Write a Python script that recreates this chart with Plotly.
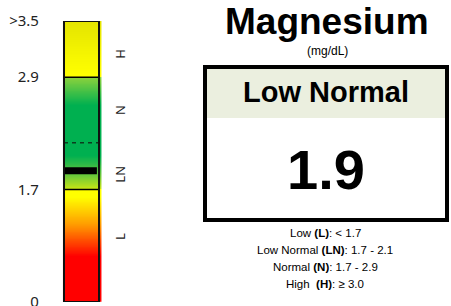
import numpy as np
import plotly.graph_objects as go

# ---- data ----
analyte = "Magnesium"
unit = "(mg/dL)"
result_value = 1.9
result_label = "Low Normal"
scale_breaks = [0, 1.7, 2.9, 3.5]          # values at tick positions
scale_ticktext = ["0", "1.7", "2.9", ">3.5"]
boundary_values = [1.7, 2.9]               # solid lines
dashed_value = 2.2                         # dashed reference line
zone_labels = ["L", "LN", "N", "H"]
zone_label_values = [1.0, 1.87, 2.55, 3.15]
legend_lines = [
    "Low <b>(L)</b>: &lt; 1.7",
    "Low Normal <b>(LN)</b>: 1.7 - 2.1",
    "Normal <b>(N)</b>: 1.7 - 2.9",
    "High&nbsp; <b>(H)</b>: ≥ 3.0",
]

# ---- layout helpers ----
W, H = 451, 306
GAUGE_KNOTS = [0, 1, 2, 2.5]  # display positions of scale_breaks


def g(v):
    return float(np.interp(v, scale_breaks, GAUGE_KNOTS))


def px(x):
    return x / W


def py(y):
    return 1 - y / H


fig = go.Figure()

# gradient fill of the gauge
ny = 600
ys = np.linspace(0, 2.5, ny)
zs = np.tile(ys.reshape(-1, 1), (1, 2))
cs = [
    [0.0, "#FF0000"],
    [0.40 / 2.5, "#FF0000"],
    [0.68 / 2.5, "#FF9900"],
    [0.93 / 2.5, "#FFFF00"],
    [1.0 / 2.5, "#FFFF00"],
    [1.002 / 2.5, "#C8E614"],
    [1.12 / 2.5, "#6CC83A"],
    [1.30 / 2.5, "#00B050"],
    [1.75 / 2.5, "#00B050"],
    [1.998 / 2.5, "#8CD23C"],
    [2.002 / 2.5, "#FFFF00"],
    [2.15 / 2.5, "#F8F800"],
    [1.0, "#E4E400"],
]
fig.add_trace(go.Heatmap(
    x=[0, 1.06], y=ys, z=zs, colorscale=cs, zmin=0, zmax=2.5,
    showscale=False, hoverinfo="skip", xgap=0, ygap=0,
))

# result marker
fig.add_trace(go.Scatter(
    x=[0, 0.94], y=[g(result_value)] * 2, mode="lines",
    line=dict(color="black", width=7), hoverinfo="skip", showlegend=False,
))

shapes = []
for b in boundary_values:
    shapes.append(dict(type="line", xref="x", yref="y", x0=0, x1=1, y0=g(b), y1=g(b),
                       line=dict(color="black", width=1.5)))
shapes.append(dict(type="line", xref="x", yref="y", x0=0, x1=1, y0=g(dashed_value), y1=g(dashed_value),
                   line=dict(color="#0B3D1E", width=1.3, dash="4px,4px")))
shapes.append(dict(type="rect", xref="x", yref="y", x0=0, x1=1, y0=0, y1=2.5,
                   line=dict(color="#111", width=2)))

# right panel box
shapes.append(dict(type="rect", xref="paper", yref="paper",
                   x0=px(205), x1=px(447), y0=py(67), y1=py(118),
                   fillcolor="#EBEFDF", line=dict(width=0), layer="below"))
shapes.append(dict(type="rect", xref="paper", yref="paper",
                   x0=px(205), x1=px(447), y0=py(67), y1=py(220),
                   line=dict(color="black", width=4)))

C = dict(showarrow=False, xanchor="center", yanchor="middle")
ann = []
for lab, v in zip(zone_labels, zone_label_values):
    ann.append(dict(x=px(120), y=g(v), xref="paper", yref="y", text=lab, textangle=-90,
                    font=dict(family="Noto Sans, Liberation Sans", size=13, color="#222"), **C))

ann.append(dict(x=px(327), y=py(22), xref="paper", yref="paper", text=f"<b>{analyte}</b>",
                font=dict(family="Liberation Sans, Arial", size=37, color="black"), **C))
ann.append(dict(x=px(327), y=py(51), xref="paper", yref="paper", text=unit,
                font=dict(family="Liberation Sans, Arial", size=12, color="black"), **C))
ann.append(dict(x=px(326), y=py(92), xref="paper", yref="paper", text=f"<b>{result_label}</b>",
                font=dict(family="Liberation Sans Narrow, Liberation Sans, Arial", size=29, color="black"), **C))
ann.append(dict(x=px(326), y=py(169), xref="paper", yref="paper", text=f"<b>{result_value}</b>",
                font=dict(family="Liberation Sans Narrow, Liberation Sans, Arial", size=56, color="black"), **C))
for i, t in enumerate(legend_lines):
    ann.append(dict(x=px(325), y=py(233 + i * 17), xref="paper", yref="paper", text=t,
                    font=dict(family="Liberation Sans, Arial", size=11.5, color="black"), **C))

fig.update_layout(
    width=W, height=H, margin=dict(l=0, r=0, t=0, b=0, autoexpand=False),
    paper_bgcolor="white", plot_bgcolor="white",
    shapes=shapes, annotations=ann, showlegend=False,
    xaxis=dict(domain=[px(62.95), px(101.45)], range=[-0.03, 1.07], visible=False,
               fixedrange=True, automargin=False),
    yaxis=dict(domain=[py(302), py(21)], range=[0, 2.5],
               tickvals=[g(v) for v in scale_breaks], ticktext=scale_ticktext,
               showgrid=False, zeroline=False, showline=False,
               ticks="outside", ticklen=0, ticklabelstandoff=20,
               ticklabeloverflow="allow",
               tickfont=dict(family="Noto Sans, Open Sans", size=15, color="#222"),
               fixedrange=True, automargin=False),
)

fig.write_html("out.html", config={"displayModeBar": False},
               post_script="document.body.style.margin='0';document.body.style.overflow='hidden';")
